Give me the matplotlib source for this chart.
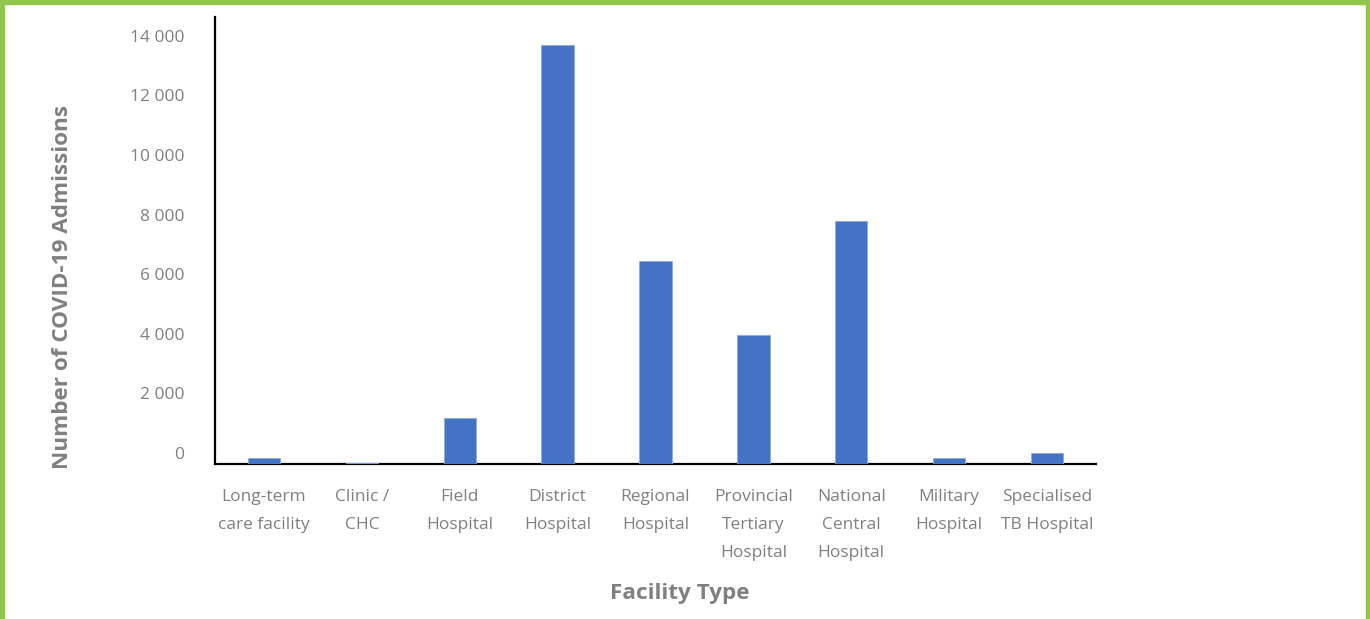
import matplotlib
matplotlib.use("Agg")
import matplotlib.pyplot as plt
import matplotlib.transforms as mtransforms
from matplotlib.patches import Rectangle

plt.rcParams["font.family"] = ["Open Sans", "DejaVu Sans"]

# data
facilities = [
    "Long-term\ncare facility",
    "Clinic /\nCHC",
    "Field\nHospital",
    "District\nHospital",
    "Regional\nHospital",
    "Provincial\nTertiary\nHospital",
    "National\nCentral\nHospital",
    "Military\nHospital",
    "Specialised\nTB Hospital",
]
admissions = [200, 30, 1540, 14060, 6810, 4330, 8150, 200, 370]
y_ticks = [0, 2000, 4000, 6000, 8000, 10000, 12000, 14000]
y_tick_labels = ["0", "2 000", "4 000", "6 000", "8 000", "10 000", "12 000", "14 000"]

gray = "#808080"
bar_blue = "#4472C4"
border_green = "#92C54B"

fig = plt.figure(figsize=(13.7, 6.19), dpi=100)
ax = fig.add_axes([215 / 1370, 1 - 464 / 619, (1096 - 215) / 1370, (464 - 17) / 619])

x = list(range(len(facilities)))
ax.bar(x, admissions, width=0.33, color=bar_blue, edgecolor="#8FAADC",
       linewidth=0.6, zorder=3)

ax.set_xlim(-0.5, len(facilities) - 0.5)
ax.set_ylim(0, 15000)
ax.set_yticks(y_ticks)
ax.set_yticklabels(y_tick_labels)
ax.set_xticks(x)
ax.set_xticklabels(facilities, linespacing=2.0)

ax.tick_params(axis="both", length=0, labelsize=12.5, labelcolor=gray)
ax.tick_params(axis="y", pad=22)
ax.tick_params(axis="x", pad=18)

# y labels sit a little above their gridline positions, as in the original
shift = mtransforms.ScaledTranslation(0, 11 / 100, fig.dpi_scale_trans)
for lab in ax.get_yticklabels():
    lab.set_transform(lab.get_transform() + shift)

for side in ["top", "right"]:
    ax.spines[side].set_visible(False)
for side in ["left", "bottom"]:
    ax.spines[side].set_color("black")
    ax.spines[side].set_linewidth(1.6)

fig.text(62 / 1370, 1 - 287 / 619, "Number of COVID-19 Admissions", rotation=90,
         ha="center", va="center", fontsize=16.2, fontweight="bold", color=gray)
fig.text(680 / 1370, 1 - 593 / 619, "Facility Type",
         ha="center", va="center", fontsize=16.2, fontweight="bold", color=gray)

# green frame (top, left, right)
for (x0, y0, w, h) in [(0, 1 - 4 / 619, 1, 4 / 619),
                       (0, 0, 4 / 1370, 1),
                       (1 - 4 / 1370, 0, 4 / 1370, 1)]:
    fig.patches.append(Rectangle((x0, y0), w, h, transform=fig.transFigure,
                                 color=border_green, zorder=10))

fig.savefig("out.png", dpi=100)
